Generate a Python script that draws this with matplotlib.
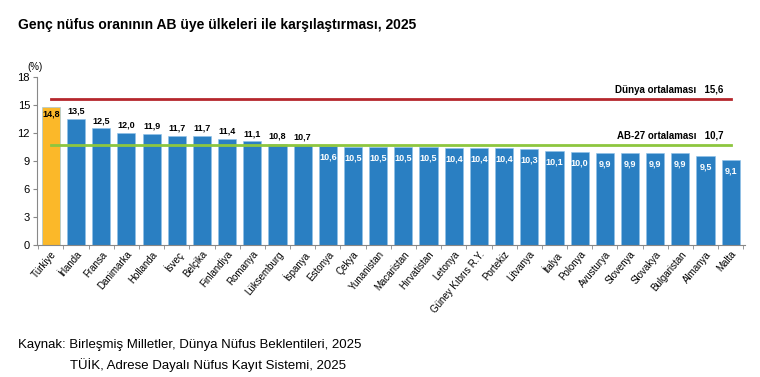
import matplotlib
matplotlib.use("Agg")
import matplotlib.pyplot as plt
import numpy as np

plt.rcParams['font.family'] = ['Liberation Sans', 'DejaVu Sans']

countries = ["Türkiye", "İrlanda", "Fransa", "Danimarka", "Hollanda", "İsveç", "Belçika",
             "Finlandiya", "Romanya", "Lüksemburg", "İspanya", "Estonya", "Çekya", "Yunanistan",
             "Macaristan", "Hırvatistan", "Letonya", "Güney Kıbrıs R.Y.", "Portekiz", "Litvanya",
             "İtalya", "Polonya", "Avusturya", "Slovenya", "Slovakya", "Bulgaristan", "Almanya", "Malta"]
values = [14.8, 13.5, 12.5, 12.0, 11.9, 11.7, 11.7, 11.4, 11.1, 10.8, 10.7, 10.6, 10.5, 10.5,
          10.5, 10.5, 10.4, 10.4, 10.4, 10.3, 10.1, 10.0, 9.9, 9.9, 9.9, 9.9, 9.5, 9.1]
world_avg = 15.6
eu_avg = 10.7
yticks = [0, 3, 6, 9, 12, 15, 18]

def fmt(v):
    return f"{v:.1f}".replace(".", ",")

fig = plt.figure(figsize=(7.6, 3.77), dpi=100)
ax = fig.add_axes([0.0487, 0.350, 0.931, 0.446])

x = np.arange(len(countries))
colors = ["#FBB829"] + ["#2A7FC2"] * (len(countries) - 1)
ax.bar(x, values, width=0.72, color=colors, edgecolor="#8FC3EA", linewidth=0.4, zorder=2)

ax.set_xlim(-0.55, len(countries) - 0.45)
ax.set_ylim(0, 18)
ax.set_yticks(yticks)
ax.tick_params(axis='y', labelsize=8, length=3, color="#888888", pad=2)
ax.set_xticks(x)
ax.set_xticklabels(countries, rotation=50, ha='right', rotation_mode='anchor', fontsize=7)
ax.tick_params(axis='x', length=0, pad=3)
ax.set_xticks(np.arange(-0.5, len(countries), 1), minor=True)
ax.tick_params(axis='x', which='minor', length=3, color="#888888")

for s in ['top', 'right']:
    ax.spines[s].set_visible(False)
for s in ['left', 'bottom']:
    ax.spines[s].set_color("#888888")
    ax.spines[s].set_linewidth(0.8)

# averages
ax.plot([0, len(countries) - 1], [world_avg, world_avg], color="#B5272D", lw=2, zorder=3)
ax.plot([0, len(countries) - 1], [eu_avg, eu_avg], color="#8DC63F", lw=2, zorder=3)
ax.text(len(countries) - 1.3, world_avg + 0.5, f"Dünya ortalaması   {fmt(world_avg)}",
        ha='right', va='bottom', fontsize=7, fontweight='bold')
ax.text(len(countries) - 1.3, eu_avg + 0.5, f"AB-27 ortalaması   {fmt(eu_avg)}",
        ha='right', va='bottom', fontsize=7, fontweight='bold')

for i, v in enumerate(values):
    if i == 0:
        ax.text(i, v - 0.25, fmt(v), ha='center', va='top', fontsize=6.5, fontweight='bold', color='black', zorder=4)
    elif v >= eu_avg:
        ax.text(i, v + 0.35, fmt(v), ha='center', va='bottom', fontsize=6.5, fontweight='bold', color='black', zorder=4)
    else:
        ax.text(i, v - 0.7, fmt(v), ha='center', va='top', fontsize=6.5, fontweight='bold', color='white', zorder=4)

fig.text(0.036, 0.809, "(%)", fontsize=7, ha='left', va='bottom')
fig.text(0.024, 0.933, "Genç nüfus oranının AB üye ülkeleri ile karşılaştırması, 2025",
         fontsize=10, fontweight='bold', ha='left', va='center')
fig.text(0.024, 0.085, "Kaynak: Birleşmiş Milletler, Dünya Nüfus Beklentileri, 2025",
         fontsize=9.5, ha='left', va='center')
fig.text(0.092, 0.032, "TÜİK, Adrese Dayalı Nüfus Kayıt Sistemi, 2025",
         fontsize=9.5, ha='left', va='center')

fig.savefig("out.png", dpi=100)
